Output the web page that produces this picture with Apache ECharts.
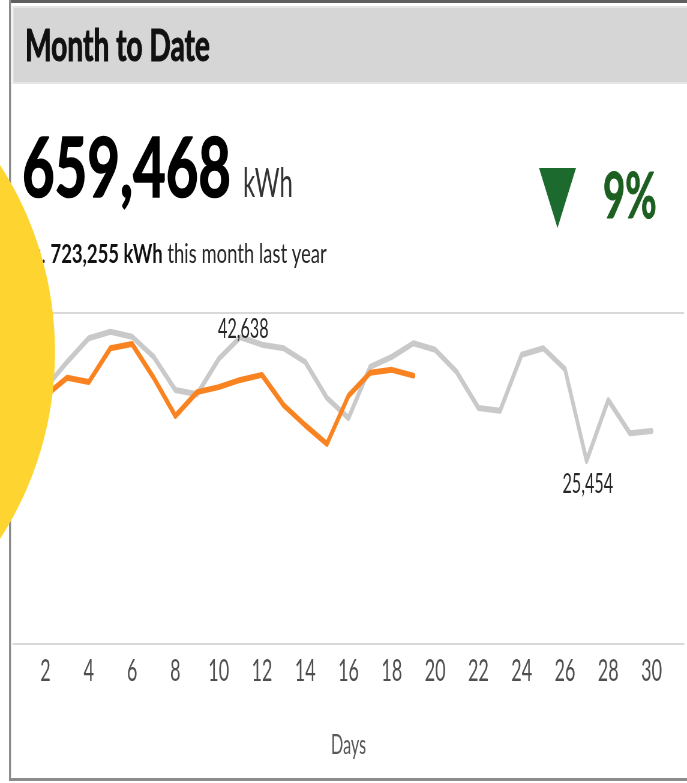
<!DOCTYPE html>
<html>
<head>
<meta charset="utf-8">
<title>Month to Date</title>
<script src="https://cdn.jsdelivr.net/npm/echarts@6/dist/echarts.min.js"></script>
<style>
  html, body { margin: 0; padding: 0; background: #fff; overflow: hidden; }
  /* the reference is a squeezed screenshot, so draw wide and squeeze the whole chart */
  #mychart { width: 1145px; height: 783px; transform: scaleX(0.6); transform-origin: 0 0; }
</style>
</head>
<body>
<div id="mychart"></div>
<script>
// days of the month
const days = ['1','2','3','4','5','6','7','8','9','10','11','12','13','14','15','16',
  '17','18','19','20','21','22','23','24','25','26','27','28','29','30','31'];
// kWh per day, same month last year
const lastYear = [37000, 35600, 39200, 42500, 43400, 42700, 39900, 35300, 34700, 39600,
  42638, 41600, 41100, 39200, 34200, 31400, 38500, 39900, 41800, 40900,
  37800, 32800, 32400, 40200, 41100, 38200, 25454, 33900, 29300, 29600, null];
// kWh per day, this month so far
const thisYear = [33000, 34500, 37000, 36400, 41100, 41700, 37000, 31700, 35000, 35700,
  36700, 37400, 33200, 30400, 27800, 34500, 37700, 38100, 37300];
// days whose value is written on the grey line
const labelDays = ['11', '27'];

const totalThis = '659,468';
const totalLast = '723,255';
const changePct = '9%';

const S = 0.6;              // horizontal squeeze of the page
const px = x => x / S;      // reference x -> drawing x
const font = 'Lato, "Open Sans", sans-serif';

const fmt = v => v.toLocaleString('en-US');

const lastData = lastYear.map((v, i) => {
  if (labelDays.indexOf(days[i]) < 0 || v == null) return v;
  const high = i === 10;
  return {
    value: v,
    label: {
      show: true,
      position: high ? 'top' : 'bottom',
      distance: high ? 0 : 10,
      offset: high ? [5, 6] : [2, 0],
      formatter: p => fmt(p.value),
      color: '#262626',
      fontSize: 27,
      fontFamily: font
    }
  };
});

const option = {
  animation: false,
  grid: { left: px(13), right: px(3), top: 313, bottom: 139 },
  xAxis: {
    type: 'category',
    data: days,
    name: 'Days',
    nameLocation: 'middle',
    nameGap: 88,
    nameTextStyle: { color: '#595959', fontSize: 27, fontFamily: font },
    axisLine: { lineStyle: { color: '#d9d9d9', width: 2 } },
    axisTick: {
      alignWithLabel: true,
      interval: i => i % 2 === 1,
      length: 5,
      lineStyle: { color: '#d9d9d9', width: 2 }
    },
    axisLabel: {
      interval: i => i % 2 === 1,
      color: '#4f4f4f',
      fontSize: 30,
      fontFamily: font,
      margin: 12
    }
  },
  yAxis: {
    type: 'value',
    min: 0,
    max: 46000,
    interval: 46000,
    axisLabel: { show: false },
    axisLine: { show: false },
    axisTick: { show: false },
    splitLine: { lineStyle: { color: '#d9d9d9', width: 2 } }
  },
  series: [
    {
      name: 'Last year',
      type: 'line',
      data: lastData,
      showSymbol: true,
      symbol: 'circle',
      symbolSize: 0,
      lineStyle: { color: '#c9c9c9', width: 6, cap: 'round', join: 'round' },
      z: 2
    },
    {
      name: 'This month',
      type: 'line',
      data: thisYear,
      showSymbol: false,
      lineStyle: { color: '#fa8321', width: 6, cap: 'round', join: 'round' },
      z: 3
    }
  ],
  graphic: [
    // card frame
    { type: 'rect', shape: { x: px(10), y: 0, width: px(687), height: 3 }, style: { fill: '#5f5f5f' } },
    { type: 'rect', shape: { x: px(9), y: 0, width: px(2), height: 781 }, style: { fill: '#8c8c8c' } },
    { type: 'rect', shape: { x: px(9), y: 778, width: px(687), height: 3 }, style: { fill: '#8c8c8c' } },
    // header band
    { type: 'rect', shape: { x: px(13), y: 7, width: px(680), height: 76 },
      style: { fill: '#d6d6d6', stroke: '#e6e6e6', lineWidth: 2 } },
    { type: 'text', x: px(25), y: 47, scaleX: 1.09,
      style: { text: 'Month to Date', fontSize: 43, fontWeight: 'bold', fontFamily: font,
        fill: '#111', stroke: '#111', lineWidth: 1,
        textAlign: 'left', textVerticalAlign: 'middle' } },
    // big total
    { type: 'text', x: px(22), y: 170, scaleX: 1.13,
      style: { text: totalThis, fontSize: 83, fontWeight: 'bold', fontFamily: font,
        fill: '#000', stroke: '#000', lineWidth: 1.5,
        textAlign: 'left', textVerticalAlign: 'middle' } },
    { type: 'text', x: px(243), y: 184,
      style: { text: 'kWh', fontSize: 40, fontFamily: font,
        fill: '#333', textAlign: 'left', textVerticalAlign: 'middle' } },
    { type: 'text', x: px(24), y: 254, scaleX: 1.14,
      style: { text: 'vs. {b|' + totalLast + ' kWh} this month last year', fontSize: 27,
        fontFamily: font, fill: '#262626', textAlign: 'left', textVerticalAlign: 'middle',
        rich: { b: { fontSize: 27, fontWeight: 'bold', fontFamily: font, fill: '#111' } } } },
    // change indicator
    { type: 'polygon', shape: { points: [[px(539), 168], [px(576), 168], [px(557.5), 228]] },
      style: { fill: '#1d6a2f' } },
    { type: 'text', x: px(603), y: 197,
      style: { text: changePct, fontSize: 64, fontWeight: 'bold', fontFamily: font,
        fill: '#1d5f20', stroke: '#1d5f20', lineWidth: 1,
        textAlign: 'left', textVerticalAlign: 'middle' } },
    // yellow disc over the left edge
    { type: 'ellipse', z: 100, shape: { cx: px(-290), cy: 352, rx: px(345), ry: 345 },
      style: { fill: '#fed530' } }
  ]
};

const myChart = echarts.init(document.getElementById('mychart'));
myChart.setOption(option);
window.addEventListener('resize', () => { myChart.resize(); });
</script>
</body>
</html>
